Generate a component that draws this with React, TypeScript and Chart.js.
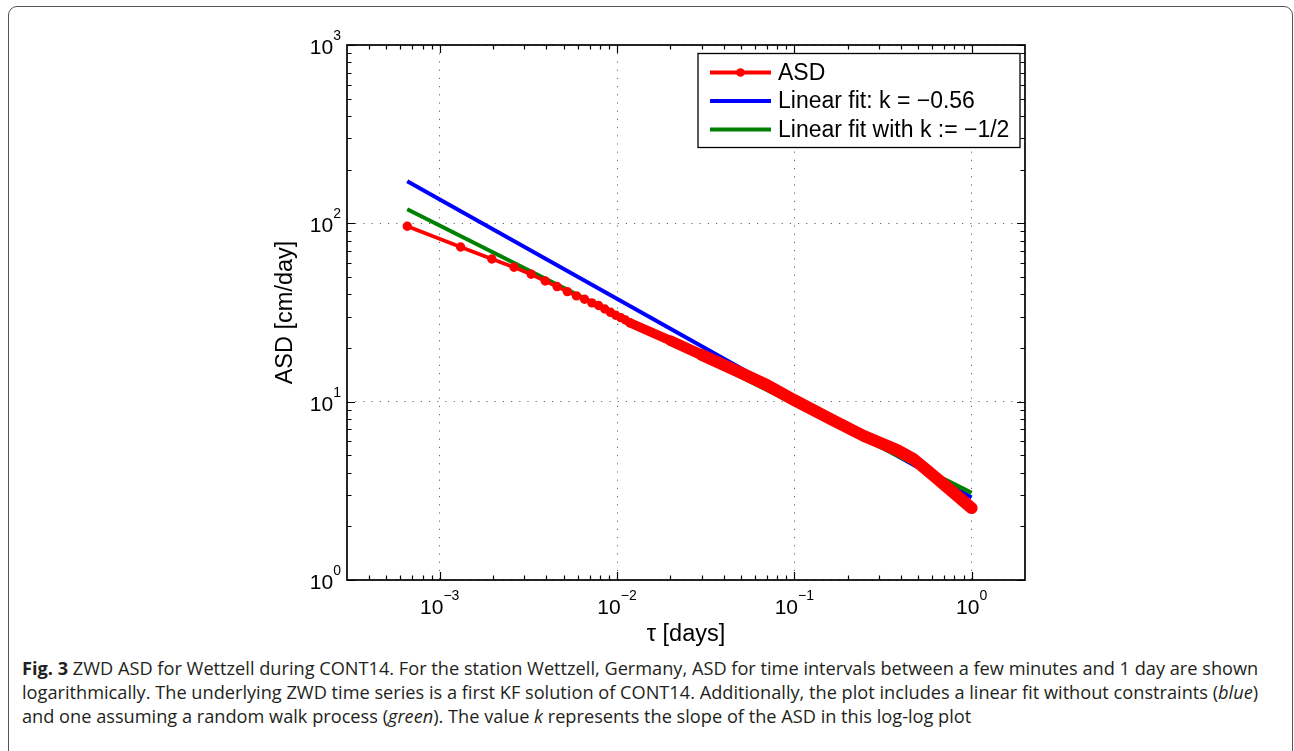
import React, { useEffect, useRef } from "react";
import { Chart, registerables } from "chart.js";

Chart.register(...registerables);

// ---- data ----
// individually visible ASD markers (tau in days, ASD in cm/day)
const tauMarked = [
  0.000656, 0.001312, 0.001968, 0.002624, 0.00328, 0.003936, 0.004592, 0.005248, 0.005904,
  0.00656, 0.007216, 0.007872, 0.008528, 0.009184, 0.00984, 0.010496, 0.011152, 0.011808,
];
const asdMarked = [
  96.3, 73.7, 63.1, 56.7, 51.8, 47.5, 44.2, 41.4, 39.2, 37.5, 35.8, 34.6, 33.1, 31.7, 30.5, 29.6,
  28.7, 27.7,
];
// dense part of the ASD curve where markers merge into a thick band
const tauDense = [0.011808, 0.02, 0.03, 0.05, 0.07, 0.1, 0.161, 0.247, 0.38, 0.47, 0.582, 0.721, 1.0];
const asdDense = [27.7, 22.0, 18.3, 14.5, 12.4, 10.2, 7.97, 6.42, 5.36, 4.77, 4.0, 3.34, 2.53];
// fitted lines (end points)
const fitTau = [0.000656, 1.0];
const fitLinear = [172, 2.9]; // k = -0.56
const fitRandomWalk = [120, 3.08]; // k := -1/2

const xMajorTicks = [0.001, 0.01, 0.1, 1];
const xTickExponents = ["\u22123", "\u22122", "\u22121", "0"];
const yMajorTicks = [1, 10, 100, 1000];
const yTickExponents = ["0", "1", "2", "3"];
const legendLabels = ["ASD", "Linear fit: k = \u22120.56", "Linear fit with k := \u22121/2"];
const xTitle = "\u03c4 [days]";
const yTitle = "ASD [cm/day]";

const X_MIN = 0.000328;
const X_MAX = 2;
const Y_MIN = 1;
const Y_MAX = 1000;

const RED = "#ff0000";
const BLUE = "#0000ff";
const GREEN = "#008000";
const FONT = "'Liberation Sans', Arial, Helvetica, sans-serif";

const CANVAS_W = 1294;
const CANVAS_H = 650;

const decorPlugin = {
  id: "decor",
  afterDraw(chart: any) {
    const { ctx, chartArea: a, scales } = chart;
    const xs = scales.x;
    const ys = scales.y;
    ctx.save();

    // tick marks (inside, on all four sides)
    ctx.strokeStyle = "#000";
    ctx.lineWidth = 1.2;
    const majorLen = 8;
    const minorLen = 4.5;
    const xTick = (v: number, len: number) => {
      const px = Math.round(xs.getPixelForValue(v)) + 0.5;
      ctx.beginPath();
      ctx.moveTo(px, a.bottom);
      ctx.lineTo(px, a.bottom - len);
      ctx.moveTo(px, a.top);
      ctx.lineTo(px, a.top + len);
      ctx.stroke();
    };
    const yTick = (v: number, len: number) => {
      const py = Math.round(ys.getPixelForValue(v)) + 0.5;
      ctx.beginPath();
      ctx.moveTo(a.left, py);
      ctx.lineTo(a.left + len, py);
      ctx.moveTo(a.right, py);
      ctx.lineTo(a.right - len, py);
      ctx.stroke();
    };
    for (let n = -4; n <= 0; n++) {
      for (let m = 2; m <= 9; m++) {
        const v = m * Math.pow(10, n);
        if (v > X_MIN * 1.01 && v < X_MAX * 0.99) xTick(v, minorLen);
      }
    }
    xMajorTicks.forEach((v) => xTick(v, majorLen));
    for (let n = 0; n <= 2; n++) {
      for (let m = 2; m <= 9; m++) yTick(m * Math.pow(10, n), minorLen);
    }
    yMajorTicks.forEach((v) => yTick(v, majorLen));

    // axes box
    ctx.lineWidth = 1.7;
    ctx.strokeRect(a.left, a.top, a.right - a.left, a.bottom - a.top);

    // tick labels 10^n
    ctx.fillStyle = "#000";
    const baseFont = `21px ${FONT}`;
    const expFont = `14px ${FONT}`;
    xMajorTicks.forEach((v, i) => {
      const px = xs.getPixelForValue(v);
      ctx.font = baseFont;
      const wb = ctx.measureText("10").width;
      ctx.font = expFont;
      const we = ctx.measureText(xTickExponents[i]).width;
      const x0 = px - (wb + we) / 2;
      ctx.textAlign = "left";
      ctx.textBaseline = "alphabetic";
      ctx.font = baseFont;
      ctx.fillText("10", x0, a.bottom + 34);
      ctx.font = expFont;
      ctx.fillText(xTickExponents[i], x0 + wb, a.bottom + 19.5);
    });
    yMajorTicks.forEach((v, i) => {
      const py = ys.getPixelForValue(v);
      ctx.font = expFont;
      const we = ctx.measureText(yTickExponents[i]).width;
      const xr = a.left - 6;
      ctx.textAlign = "right";
      ctx.textBaseline = "alphabetic";
      ctx.fillText(yTickExponents[i], xr, py - 5);
      ctx.font = baseFont;
      ctx.fillText("10", xr - we, py + 9);
    });

    // axis titles
    ctx.font = `23.5px ${FONT}`;
    ctx.textAlign = "center";
    ctx.textBaseline = "middle";
    ctx.fillText(xTitle, (a.left + a.right) / 2, a.bottom + 55);
    ctx.save();
    ctx.translate(a.left - 61, (a.top + a.bottom) / 2);
    ctx.rotate(-Math.PI / 2);
    ctx.fillText(yTitle, 0, 0);
    ctx.restore();

    // legend
    const bx = a.right - 327;
    const by = a.top + 8.5;
    const bw = 322;
    const bh = 94;
    ctx.fillStyle = "#fff";
    ctx.fillRect(bx, by, bw, bh);
    ctx.strokeStyle = "#000";
    ctx.lineWidth = 1.3;
    ctx.strokeRect(bx, by, bw, bh);
    const rows = [19, 47.5, 76];
    const colors = [RED, BLUE, GREEN];
    ctx.font = `23px ${FONT}`;
    ctx.textAlign = "left";
    ctx.textBaseline = "middle";
    legendLabels.forEach((lab, i) => {
      const y = by + rows[i];
      ctx.strokeStyle = colors[i];
      ctx.lineWidth = 4;
      ctx.beginPath();
      ctx.moveTo(bx + 12, y);
      ctx.lineTo(bx + 73, y);
      ctx.stroke();
      if (i === 0) {
        ctx.fillStyle = RED;
        ctx.beginPath();
        ctx.arc(bx + 42.5, y, 4.3, 0, Math.PI * 2);
        ctx.fill();
      }
      ctx.fillStyle = "#000";
      ctx.fillText(lab, bx + 80, y + 1);
    });

    ctx.restore();
  },
};

function ChartCanvas() {
  const ref = useRef<HTMLCanvasElement | null>(null);
  useEffect(() => {
    if (!ref.current) return;
    const pts = (xs: number[], ys: number[]) => xs.map((x, i) => ({ x, y: ys[i] }));
    const gridCfg = { color: "rgba(0,0,0,0.6)", lineWidth: 1, drawTicks: false };
    const borderCfg = { display: false, dash: [1.2, 7] };
    const chart = new Chart(ref.current, {
      type: "scatter",
      data: {
        datasets: [
          {
            label: legendLabels[0],
            data: pts(tauMarked, asdMarked),
            showLine: true,
            borderColor: RED,
            backgroundColor: RED,
            borderWidth: 3.8,
            pointRadius: 3.7,
            pointBorderWidth: 2,
            pointBackgroundColor: RED,
            pointBorderColor: RED,
            order: 1,
          },
          {
            label: "ASD (dense)",
            data: pts(tauDense, asdDense),
            showLine: true,
            borderColor: RED,
            backgroundColor: RED,
            borderWidth: 12,
            borderCapStyle: "round",
            borderJoinStyle: "round",
            segment: {
              borderWidth: (c: any) => (c.p0DataIndex === 0 ? 9.5 : c.p0DataIndex === 1 ? 10.5 : 12),
            },
            pointRadius: 0,
            order: 2,
          },
          {
            label: legendLabels[2],
            data: pts(fitTau, fitRandomWalk),
            showLine: true,
            borderColor: GREEN,
            backgroundColor: GREEN,
            borderWidth: 4,
            pointRadius: 0,
            order: 3,
          },
          {
            label: legendLabels[1],
            data: pts(fitTau, fitLinear),
            showLine: true,
            borderColor: BLUE,
            backgroundColor: BLUE,
            borderWidth: 4,
            pointRadius: 0,
            order: 4,
          },
        ],
      } as any,
      options: {
        responsive: false,
        animation: false,
        devicePixelRatio: 1,
        events: [],
        layout: { padding: { left: 347, top: 45, right: CANVAS_W - 1025, bottom: CANVAS_H - 580 } },
        plugins: { legend: { display: false }, tooltip: { enabled: false }, title: { display: false } },
        scales: {
          x: {
            type: "logarithmic",
            min: X_MIN,
            max: X_MAX,
            afterBuildTicks: (s: any) => {
              s.ticks = xMajorTicks.map((v) => ({ value: v }));
            },
            afterFit: (s: any) => {
              s.height = 0;
            },
            ticks: { display: false },
            grid: gridCfg,
            border: borderCfg,
          },
          y: {
            type: "logarithmic",
            min: Y_MIN,
            max: Y_MAX,
            afterBuildTicks: (s: any) => {
              s.ticks = yMajorTicks.map((v) => ({ value: v }));
            },
            afterFit: (s: any) => {
              s.width = 0;
            },
            ticks: { display: false },
            grid: gridCfg,
            border: borderCfg,
          },
        },
      } as any,
      plugins: [decorPlugin],
    });
    return () => chart.destroy();
  }, []);
  return (
    <canvas
      ref={ref}
      width={CANVAS_W}
      height={CANVAS_H}
      style={{ position: "absolute", left: 0, top: 0, width: CANVAS_W, height: CANVAS_H }}
    />
  );
}

const captionStyle: React.CSSProperties = {
  position: "absolute",
  left: 22,
  top: 656,
  fontFamily: "'Open Sans', 'Noto Sans', sans-serif",
  fontSize: 18.2,
  lineHeight: "24px",
  color: "#231f20",
  whiteSpace: "nowrap",
};

export default function App() {
  return (
    <div
      style={{
        position: "fixed",
        left: 0,
        top: 0,
        width: 1294,
        height: 751,
        overflow: "hidden",
        background: "#fff",
      }}
    >
      <div
        style={{
          position: "absolute",
          left: 8,
          top: 6,
          width: 1285,
          height: 780,
          border: "1.5px solid #555",
          borderRadius: 9,
          boxSizing: "border-box",
        }}
      />
      <ChartCanvas />
      <div style={captionStyle}>
        <div>
          <b>Fig. 3</b> ZWD ASD for Wettzell during CONT14. For the station Wettzell, Germany, ASD for time
          intervals between a few minutes and 1 day are shown
        </div>
        <div>
          logarithmically. The underlying ZWD time series is a first KF solution of CONT14. Additionally, the
          plot includes a linear fit without constraints (<i>blue</i>)
        </div>
        <div>
          and one assuming a random walk process (<i>green</i>). The value <i>k</i> represents the slope of the
          ASD in this log-log plot
        </div>
      </div>
    </div>
  );
}
